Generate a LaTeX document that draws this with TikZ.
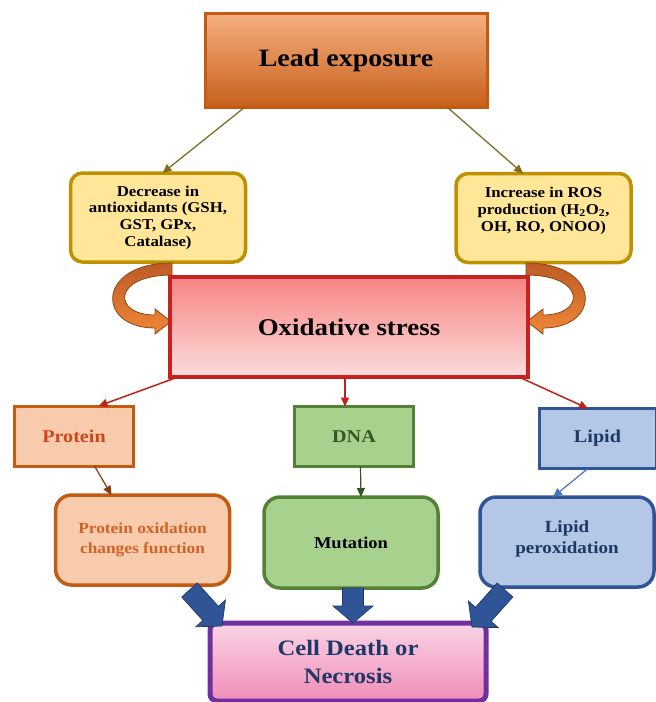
\documentclass[tikz,border=0pt]{standalone}
\usepackage{fontspec}
\setmainfont[FakeStretch=1.12]{Liberation Serif}
\usetikzlibrary{arrows.meta,calc}
\definecolor{leadB}{RGB}{197,90,17}
\definecolor{leadT}{RGB}{246,176,128}
\definecolor{leadBot}{RGB}{200,96,28}
\definecolor{yelF}{RGB}{255,230,153}
\definecolor{yelB}{RGB}{191,144,0}
\definecolor{oxB}{RGB}{201,33,30}
\definecolor{oxT}{RGB}{248,132,132}
\definecolor{oxBot}{RGB}{252,220,220}
\definecolor{protF}{RGB}{248,203,173}
\definecolor{protB}{RGB}{197,90,17}
\definecolor{protT}{RGB}{205,72,28}
\definecolor{protT2}{RGB}{208,100,40}
\definecolor{dnaF}{RGB}{169,209,142}
\definecolor{dnaB}{RGB}{83,129,53}
\definecolor{dnaT}{RGB}{55,86,35}
\definecolor{lipF}{RGB}{180,199,231}
\definecolor{lipB}{RGB}{47,85,151}
\definecolor{lipT}{RGB}{31,56,100}
\definecolor{cellB}{RGB}{112,48,160}
\definecolor{cellT}{RGB}{250,212,230}
\definecolor{cellBot}{RGB}{240,141,185}
\definecolor{olive}{RGB}{130,108,32}
\definecolor{redln}{RGB}{196,32,26}
\definecolor{brownln}{RGB}{132,60,12}
\definecolor{blueln}{RGB}{68,114,196}
\definecolor{blkF}{RGB}{47,85,151}
\definecolor{blkB}{RGB}{32,56,100}
\definecolor{curlT}{RGB}{188,92,38}
\definecolor{curlBot}{RGB}{240,135,55}
\definecolor{curlB}{RGB}{140,70,20}
\newcommand\blockarr[2]{%
  \coordinate (bah) at ($(#2)!17pt!(#1)$);
  \draw[blockarrow] ($(#1)!10.5pt!90:(#2)$) -- ($(bah)!10.5pt!90:(#2)$) -- ($(bah)!20pt!90:(#2)$) -- (#2)
    -- ($(bah)!20pt!-90:(#2)$) -- ($(bah)!10.5pt!-90:(#2)$) -- ($(#1)!10.5pt!-90:(#2)$) -- cycle;}
\begin{document}
\begin{tikzpicture}[x=1pt,y=-1pt,
  every node/.style={inner sep=0pt, outer sep=0pt, align=center},
  leadbox/.style={draw=leadB, line width=3pt, top color=leadT, bottom color=leadBot,
    minimum width=282pt, minimum height=94pt, font=\fontsize{25}{30}\selectfont\bfseries},
  yelbox/.style={draw=yelB, line width=3.5pt, fill=yelF, rounded corners=12pt,
    minimum width=175pt, minimum height=89pt},
  yeltext/.style={font=\fontsize{15}{16.7}\selectfont\bfseries},
  oxbox/.style={draw=oxB, line width=3.5pt, top color=oxT, bottom color=oxBot,
    minimum width=358pt, minimum height=100pt, font=\fontsize{24}{28}\selectfont\bfseries},
  sqbox/.style={line width=3pt, minimum width=119pt, minimum height=60pt,
    font=\fontsize{18}{21}\selectfont\bfseries},
  rbox/.style={line width=3.5pt, rounded corners=16pt, minimum width=174pt, minimum height=90pt,
    font=\fontsize{15.5}{19.5}\selectfont\bfseries},
  cellbox/.style={draw=cellB, line width=5pt, rounded corners=7pt, top color=cellT, bottom color=cellBot,
    minimum width=276pt, minimum height=78pt, text=lipT, font=\fontsize{22}{28}\selectfont\bfseries},
  thinarrow/.style={line width=1.3pt, -{Triangle[length=9pt,width=8pt]}},
  curl/.style={draw=curlB, line width=0.8pt, top color=curlT, bottom color=curlBot},
  blockarrow/.style={draw=blkB, line width=0.7pt, fill=blkF}
]
\useasboundingbox (0,0) rectangle (656,702);

% nodes
\node[leadbox] (lead) at (346,60) {Lead exposure};
\node[yelbox, yeltext] (dec) at (158,217.5) {Decrease in\\antioxidants (GSH,\\GST, GPx,\\Catalase)};
\node[yelbox] (inc) at (543.5,218) {};
\node[yeltext] (inclbl) at ([yshift=7pt]inc.center) {Increase in ROS\\production (H\textsubscript{2}O\textsubscript{2},\\OH, RO, ONOO)};

% curved arrows
\draw[curl] (172,263) .. controls (96,263) and (96,328) .. (155,328) -- (155,334) -- (171,321.5)
  -- (155,309) -- (155,315) .. controls (112,315) and (112,275) .. (172,275) -- cycle;
\draw[curl] (526,263) .. controls (602,263) and (602,328) .. (543,328) -- (543,334) -- (527,321.5)
  -- (543,309) -- (543,315) .. controls (586,315) and (586,275) .. (526,275) -- cycle;

\node[oxbox] (ox) at (349,327) {Oxidative stress};

\node[sqbox, draw=protB, fill=protF, text=protT] (protein) at (74,436) {Protein};
\node[sqbox, draw=dnaB, fill=dnaF, text=dnaT] (dna) at (354,436.5) {DNA};
\node[sqbox, draw=lipB, fill=lipF, text=lipT, minimum width=117pt] (lipid) at (597.5,438.5) {Lipid};

\node[rbox, draw=protB, fill=protF, text=protT2] (protox) at (142.5,540) {Protein oxidation\\changes function};
\node[rbox, draw=dnaB, fill=dnaF, text=black, minimum height=91pt, font=\fontsize{16.5}{20}\selectfont\bfseries] (mut) at (351,542.5) {Mutation};
\node[rbox, draw=lipB, fill=lipF, text=lipT] (lipox) at (567,542) {};
\node[font=\fontsize{17}{21}\selectfont\bfseries, text=lipT] (lipoxlbl) at ([yshift=3pt]lipox.center) {Lipid\\peroxidation};

\node[cellbox] (cell) at (348,662) {Cell Death or\\Necrosis};

% thin connectors
\draw[thinarrow, olive] ([xshift=40pt]lead.south west) -- ([xshift=92pt]dec.north west);
\draw[thinarrow, olive] ([xshift=-40pt]lead.south east) -- ([xshift=67pt]inc.north west);
\draw[thinarrow, redln, line width=1.5pt] ([xshift=8pt]ox.south west) -- ([xshift=84pt]protein.north west);
\draw[thinarrow, redln, line width=1.5pt] ([xshift=-4pt]ox.south) -- ([xshift=-9pt]dna.north);
\draw[thinarrow, redln, line width=1.5pt] ([xshift=-9pt]ox.south east) -- ([xshift=49pt]lipid.north west);
\draw[thinarrow, brownln, line width=1.2pt] ([xshift=80pt]protein.south west) -- ([xshift=56pt]protox.north west);
\draw[thinarrow, dnaT, line width=1.2pt] ([xshift=66pt]dna.south west) -- ([xshift=97pt]mut.north west);
\draw[thinarrow, blueln, line width=1.2pt] ([xshift=49pt]lipid.south west) -- ([xshift=73pt]lipox.north west);

% block arrows
\coordinate (b1s) at ([xshift=-40pt,yshift=-5pt]protox.south east);
\coordinate (b1e) at ([xshift=12pt,yshift=-3pt]cell.north west);
\coordinate (b2s) at ([xshift=2pt]mut.south);
\coordinate (b2e) at (b2s |- cell.north);
\coordinate (b3s) at ([xshift=25pt,yshift=-3pt]lipox.south west);
\coordinate (b3e) at ([xshift=-14pt,yshift=-4pt]cell.north east);
\blockarr{b1s}{b1e}
\blockarr{b2s}{b2e}
\blockarr{b3s}{b3e}
\end{tikzpicture}
\end{document}
